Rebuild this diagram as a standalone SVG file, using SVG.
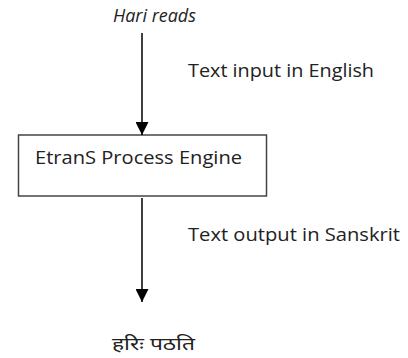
<svg xmlns="http://www.w3.org/2000/svg" width="408" height="358" viewBox="0 0 408 358">
  <style>
    .lbl { font-family: "Open Sans", "Liberation Sans", sans-serif; font-size: 18px; fill: #222; }
    .conn { stroke: #000; stroke-width: 1.5; fill: none; }
    .box { fill: #fff; stroke: #444; stroke-width: 1.5; }
  </style>
  <defs>
    <marker id="arrow" markerWidth="13" markerHeight="13" refX="13" refY="6.5" orient="auto" markerUnits="userSpaceOnUse">
      <path d="M0,0 L13,6.5 L0,13 Z" fill="#000"/>
    </marker>
  </defs>
  <rect width="408" height="358" fill="#fff"/>

  <g id="input">
    <text x="113" y="22" class="lbl" font-style="italic" font-size="14" textLength="83" lengthAdjust="spacingAndGlyphs">Hari reads</text>
  </g>

  <g id="engine">
    <rect class="box" x="18.5" y="135" width="248" height="61"/>
    <text x="35" y="164" class="lbl" textLength="207" lengthAdjust="spacingAndGlyphs">EtranS Process Engine</text>
  </g>

  <g id="output">
    <text x="112" y="350" font-family="Noto Sans Devanagari, Noto Sans, sans-serif" font-size="17" fill="#222" textLength="83" lengthAdjust="spacingAndGlyphs">हरिः पठति</text>
  </g>

  <g id="connectors">
    <line class="conn" x1="142" y1="33" x2="142" y2="135" marker-end="url(#arrow)"/>
    <line class="conn" x1="142" y1="198" x2="142" y2="302" marker-end="url(#arrow)"/>
    <text x="188" y="77" class="lbl" textLength="186" lengthAdjust="spacingAndGlyphs">Text input in English</text>
    <text x="188" y="241" class="lbl" textLength="212" lengthAdjust="spacingAndGlyphs">Text output in Sanskrit</text>
  </g>
</svg>
